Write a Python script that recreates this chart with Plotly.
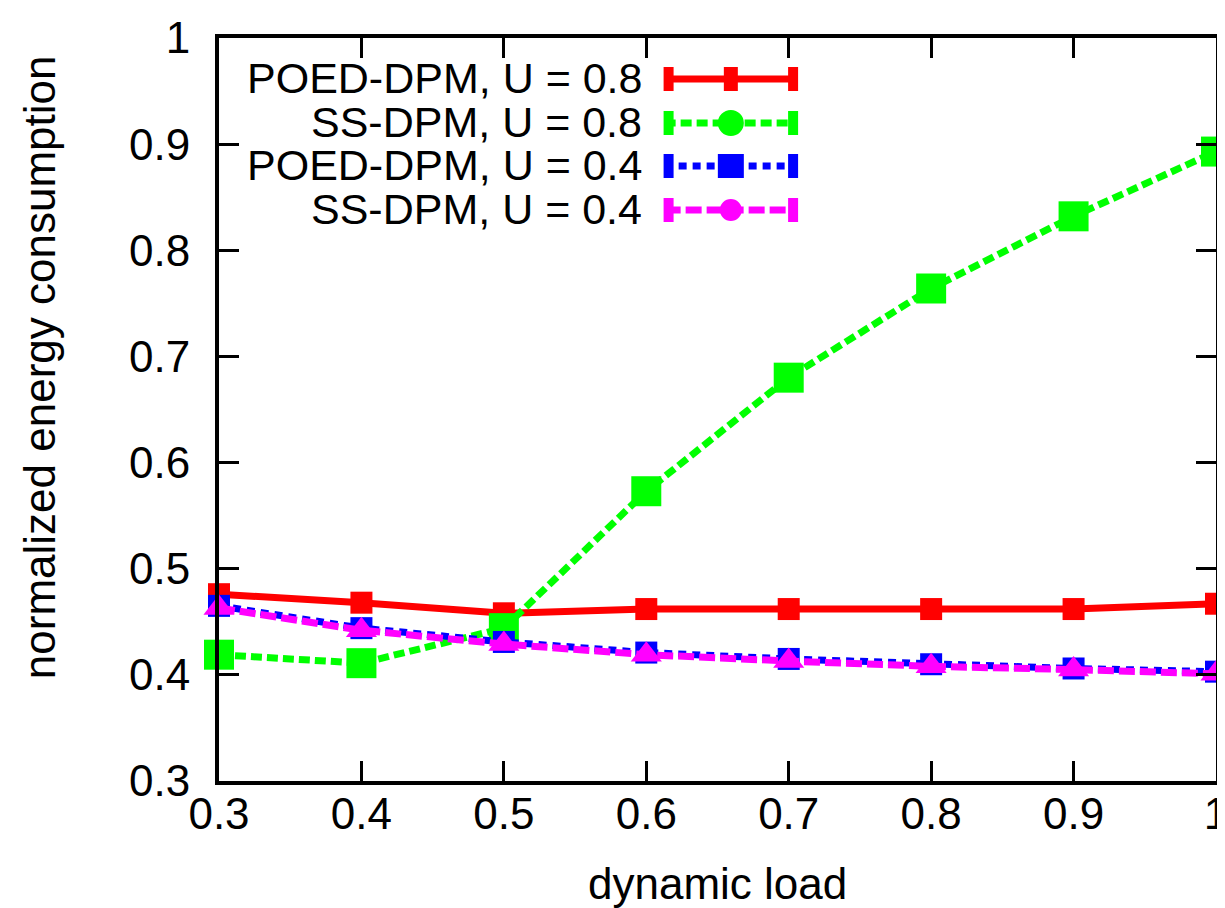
import plotly.graph_objects as go

# ---- data ----
dynamic_load = [0.3, 0.4, 0.5, 0.6, 0.7, 0.8, 0.9, 1.0]
poed_u08 = [0.476, 0.468, 0.458, 0.462, 0.462, 0.462, 0.462, 0.467]
ss_u08 = [0.419, 0.411, 0.444, 0.573, 0.680, 0.764, 0.832, 0.893]
poed_u04 = [0.465, 0.444, 0.431, 0.421, 0.415, 0.410, 0.406, 0.403]
ss_u04 = [0.463, 0.442, 0.429, 0.419, 0.413, 0.408, 0.405, 0.401]

series_names = ["POED-DPM, U = 0.8", "SS-DPM, U = 0.8", "POED-DPM, U = 0.4", "SS-DPM, U = 0.4"]
series_values = [poed_u08, ss_u08, poed_u04, ss_u04]
colors = ["#ff0000", "#00ff00", "#0000ff", "#ff00ff"]
dashes = ["solid", "11px,5px", "8px,6px", "16px,5px"]
widths = [7, 7, 7, 7]
symbols = ["square", "square", "square", "triangle-up"]
msizes = [22, 30, 22, 27]

x_ticks = [0.3, 0.4, 0.5, 0.6, 0.7, 0.8, 0.9, 1.0]
x_ticklabels = ["0.3", "0.4", "0.5", "0.6", "0.7", "0.8", "0.9", "1"]
y_ticks = [0.3, 0.4, 0.5, 0.6, 0.7, 0.8, 0.9, 1.0]
y_ticklabels = ["0.3", "0.4", "0.5", "0.6", "0.7", "0.8", "0.9", "1"]

FONT = "Liberation Sans"
FS = 44
FS_LEG = 43

fig = go.Figure()
for name, vals, c, d, w, s, ms in zip(series_names, series_values, colors, dashes, widths, symbols, msizes):
    fig.add_trace(go.Scatter(
        x=dynamic_load, y=vals, name=name, mode="lines+markers",
        line=dict(color=c, width=w, dash=d),
        marker=dict(color=c, symbol=s, size=ms, line=dict(width=0)),
        cliponaxis=False, showlegend=False,
    ))

# ---- custom legend (text left, sample right, like gnuplot) ----
W, H = 1225, 908
L, R, T, B = 211, 5, 30, 135
pw, ph = W - L - R, H - T - B

def px2x(p):
    return (p - L) / pw

def py2y(p):
    return (H - B - p) / ph

row_y = [71, 115, 158, 202]
mid_shape = ["rect", "circle", "rect", "circle"]
mid_half = [(7, 12), (13, 13), (13, 12), (11, 11)]
for i, name in enumerate(series_names):
    yp = py2y(row_y[i])
    fig.add_annotation(x=px2x(641), y=py2y(row_y[i] - 1), xref="paper", yref="paper", text=name,
                       showarrow=False, xanchor="right", yanchor="middle",
                       font=dict(family=FONT, size=FS_LEG, color="black"))
    fig.add_shape(type="line", xref="paper", yref="paper",
                  x0=px2x(662), x1=px2x(796), y0=yp, y1=yp,
                  line=dict(color=colors[i], width=widths[i], dash=dashes[i]))
    for ex in (666, 792):
        fig.add_shape(type="rect", xref="paper", yref="paper", xsizemode="pixel", ysizemode="pixel",
                      xanchor=px2x(ex), yanchor=yp, x0=-5, x1=5, y0=-12, y1=12,
                      line=dict(width=0), fillcolor=colors[i])
    hx, hy = mid_half[i]
    fig.add_shape(type=mid_shape[i], xref="paper", yref="paper", xsizemode="pixel", ysizemode="pixel",
                  xanchor=px2x(729), yanchor=yp, x0=-hx, x1=hx, y0=-hy, y1=hy,
                  line=dict(width=0), fillcolor=colors[i])

# axis titles
fig.add_annotation(x=0.5, y=py2y(875), xref="paper", yref="paper", text="dynamic load",
                   showarrow=False, xanchor="center", yanchor="middle",
                   font=dict(family=FONT, size=FS, color="black"))
fig.add_annotation(x=px2x(29), y=py2y(359), xref="paper", yref="paper",
                   text="normalized energy consumption", textangle=-90,
                   showarrow=False, xanchor="center", yanchor="middle",
                   font=dict(family=FONT, size=FS, color="black"))

axis_common = dict(showgrid=False, zeroline=False, showline=True, linecolor="black", linewidth=4,
                   mirror="ticks", ticks="inside", ticklen=20, tickwidth=3, tickcolor="black",
                   ticklabeloverflow="allow",
                   tickfont=dict(family=FONT, size=FS, color="black"))

fig.update_xaxes(range=[0.3, 1.0], tickvals=x_ticks, ticktext=x_ticklabels,
                 ticklabelstandoff=-9, **axis_common)
fig.update_yaxes(range=[0.3, 1.0], tickvals=y_ticks, ticktext=y_ticklabels,
                 ticklabelstandoff=16, **axis_common)

fig.update_layout(width=W, height=H, margin=dict(l=L, r=R, t=T, b=B),
                  plot_bgcolor="white", paper_bgcolor="white", showlegend=False,
                  font=dict(family=FONT, size=FS, color="black"))

fig.write_html("out.html")
